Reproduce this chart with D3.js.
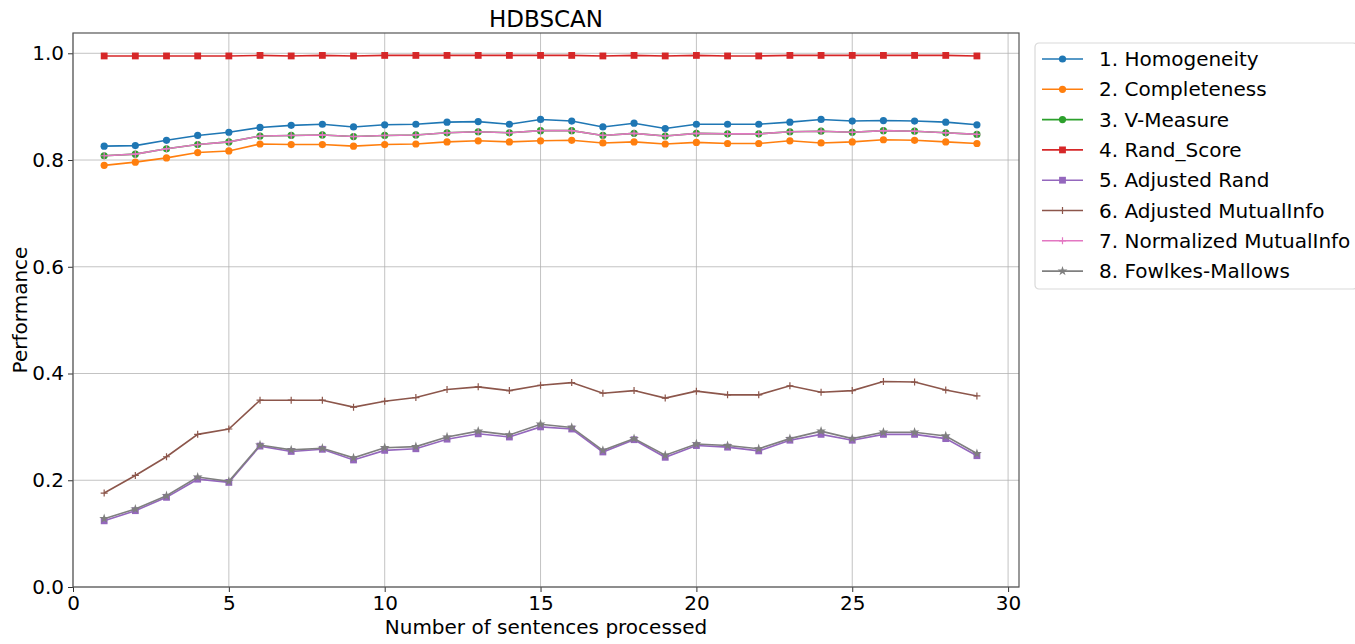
<!DOCTYPE html>
<html>
<head>
<meta charset="utf-8">
<script src="https://cdn.jsdelivr.net/npm/d3@7"></script>
<style>
  body { margin: 0; background: #fff; }
  text { font-family: "DejaVu Sans", sans-serif; fill: #000; }
</style>
</head>
<body>
<div id="chart"></div>
<script>
// sentences processed
const xs = d3.range(1, 30);

const homogeneity = [0.826, 0.827, 0.837, 0.846, 0.852, 0.861, 0.865, 0.867, 0.862, 0.866, 0.867, 0.871, 0.872, 0.867, 0.876,
  0.873, 0.862, 0.869, 0.859, 0.867, 0.867, 0.867, 0.871, 0.876, 0.873, 0.874, 0.873, 0.871, 0.866];
const completeness = [0.790, 0.796, 0.804, 0.814, 0.817, 0.830, 0.829, 0.829, 0.826, 0.829, 0.830, 0.834, 0.836, 0.834, 0.836,
  0.837, 0.832, 0.834, 0.830, 0.833, 0.831, 0.831, 0.836, 0.832, 0.834, 0.838, 0.837, 0.834, 0.831];
const vMeasure = [0.808, 0.811, 0.821, 0.829, 0.834, 0.845, 0.846, 0.847, 0.844, 0.846, 0.847, 0.851, 0.853, 0.851, 0.855,
  0.855, 0.846, 0.850, 0.845, 0.850, 0.849, 0.849, 0.853, 0.854, 0.852, 0.855, 0.854, 0.851, 0.848];
const randScore = [0.995, 0.995, 0.995, 0.995, 0.995, 0.996, 0.995, 0.996, 0.995, 0.996, 0.996, 0.996, 0.996, 0.996, 0.996,
  0.996, 0.995, 0.996, 0.995, 0.996, 0.995, 0.995, 0.996, 0.996, 0.996, 0.996, 0.996, 0.996, 0.995];
const adjustedRand = [0.124, 0.143, 0.168, 0.202, 0.196, 0.264, 0.254, 0.258, 0.238, 0.256, 0.259, 0.277, 0.287, 0.281, 0.300,
  0.296, 0.253, 0.276, 0.243, 0.265, 0.262, 0.255, 0.275, 0.286, 0.275, 0.286, 0.286, 0.278, 0.246];
const adjustedMI = [0.176, 0.209, 0.244, 0.286, 0.296, 0.350, 0.350, 0.350, 0.337, 0.348, 0.355, 0.370, 0.375, 0.368, 0.378,
  0.383, 0.363, 0.368, 0.354, 0.367, 0.360, 0.360, 0.377, 0.365, 0.368, 0.385, 0.384, 0.369, 0.358];
const normalizedMI = [0.808, 0.811, 0.821, 0.829, 0.834, 0.845, 0.846, 0.847, 0.844, 0.846, 0.847, 0.851, 0.853, 0.851, 0.855,
  0.855, 0.846, 0.850, 0.845, 0.850, 0.849, 0.849, 0.853, 0.854, 0.852, 0.855, 0.854, 0.851, 0.848];
const fowlkes = [0.128, 0.146, 0.171, 0.206, 0.198, 0.266, 0.257, 0.260, 0.242, 0.261, 0.263, 0.281, 0.292, 0.285, 0.305,
  0.299, 0.256, 0.278, 0.247, 0.268, 0.265, 0.259, 0.278, 0.292, 0.278, 0.290, 0.290, 0.283, 0.250];

const seriesNames = ["1. Homogeneity", "2. Completeness", "3. V-Measure", "4. Rand_Score",
  "5. Adjusted Rand", "6. Adjusted MutualInfo", "7. Normalized MutualInfo", "8. Fowlkes-Mallows"];
const seriesValues = [homogeneity, completeness, vMeasure, randScore, adjustedRand, adjustedMI, normalizedMI, fowlkes];
const colors = ["#1f77b4", "#ff7f0e", "#2ca02c", "#d62728", "#9467bd", "#8c564b", "#e377c2", "#7f7f7f"];
const markers = ["circle", "circle", "circle", "square", "square", "plus", "plus", "star"];

const xTicks = [0, 5, 10, 15, 20, 25, 30];
const yTicks = [0, 0.2, 0.4, 0.6, 0.8, 1.0];

const W = 1355, H = 644;
const margin = { top: 33, right: 336, bottom: 57, left: 73 };
const width = W - margin.left - margin.right;
const height = H - margin.top - margin.bottom;

const svg = d3.select("#chart").append("svg")
  .attr("width", W)
  .attr("height", H);

const g = svg.append("g")
  .attr("transform", `translate(${margin.left},${margin.top})`);

const x = d3.scaleLinear().domain([0, 30.35]).range([0, width]);
const y = d3.scaleLinear().domain([0, 1.038]).range([height, 0]);

// grid
g.append("g").selectAll("line.gx")
  .data(xTicks).enter().append("line")
  .attr("x1", d => x(d)).attr("x2", d => x(d))
  .attr("y1", 0).attr("y2", height)
  .style("stroke", "#b0b0b0").style("stroke-width", 1).style("opacity", 0.75);
g.append("g").selectAll("line.gy")
  .data(yTicks).enter().append("line")
  .attr("x1", 0).attr("x2", width)
  .attr("y1", d => y(d)).attr("y2", d => y(d))
  .style("stroke", "#b0b0b0").style("stroke-width", 1).style("opacity", 0.75);

// axes
const xAxis = g.append("g")
  .attr("transform", `translate(0,${height})`)
  .call(d3.axisBottom(x).tickValues(xTicks).tickFormat(d3.format("d")).tickSize(5).tickPadding(4));
const yAxis = g.append("g")
  .call(d3.axisLeft(y).tickValues(yTicks).tickFormat(d3.format(".1f")).tickSize(5).tickPadding(4));
[xAxis, yAxis].forEach(a => {
  a.select(".domain").remove();
  a.selectAll("text").style("font-size", "20px").style("font-family", "DejaVu Sans");
  a.selectAll("line").style("stroke", "#333");
});

// spines
g.append("rect")
  .attr("width", width).attr("height", height)
  .style("fill", "none").style("stroke", "#555").style("stroke-width", 1.2);

function drawMarker(sel, type, color, size) {
  if (type === "circle") {
    sel.append("circle").attr("r", size).style("fill", color);
  } else if (type === "square") {
    sel.append("rect").attr("x", -size).attr("y", -size)
      .attr("width", size * 2).attr("height", size * 2).style("fill", color);
  } else if (type === "plus") {
    sel.append("path").attr("d", "M-3.5,0H3.5M0,-3.5V3.5")
      .style("stroke", color).style("stroke-width", 1.2).style("fill", "none");
  } else if (type === "star") {
    sel.append("path").attr("d", d3.symbol().type(d3.symbolStar).size(30)())
      .style("fill", color);
  }
}

const line = d3.line()
  .x((d, i) => x(xs[i]))
  .y(d => y(d));

seriesValues.forEach((vals, k) => {
  const sg = g.append("g");
  sg.append("path")
    .datum(vals)
    .attr("d", line)
    .style("fill", "none")
    .style("stroke", colors[k])
    .style("stroke-width", 1.6);
  sg.selectAll("g.pt")
    .data(vals)
    .enter().append("g")
    .attr("transform", (d, i) => `translate(${x(xs[i])},${y(d)})`)
    .each(function () { drawMarker(d3.select(this), markers[k], colors[k], markers[k] === "circle" ? 3.6 : 3.4); });
});

// title and labels
svg.append("text")
  .attr("x", margin.left + width / 2).attr("y", 27)
  .attr("text-anchor", "middle")
  .style("font-size", "23px")
  .text("HDBSCAN");

svg.append("text")
  .attr("x", margin.left + width / 2).attr("y", 634)
  .attr("text-anchor", "middle")
  .style("font-size", "20px")
  .text("Number of sentences processed");

svg.append("text")
  .attr("transform", `translate(27,${margin.top + height / 2}) rotate(-90)`)
  .attr("text-anchor", "middle")
  .style("font-size", "20px")
  .text("Performance");

// legend
const legend = svg.append("g").attr("transform", "translate(1035,43)");
legend.append("rect")
  .attr("width", 322).attr("height", 246)
  .attr("rx", 4)
  .style("fill", "#fff").style("stroke", "#d9d9d9").style("stroke-width", 1.2);

seriesNames.forEach((name, k) => {
  const row = legend.append("g").attr("transform", `translate(0,${16 + k * 30.3})`);
  row.append("line")
    .attr("x1", 7).attr("x2", 48)
    .style("stroke", colors[k]).style("stroke-width", 1.6);
  const m = row.append("g").attr("transform", "translate(27.5,0)");
  drawMarker(m, markers[k], colors[k], markers[k] === "circle" ? 3.6 : 3.4);
  row.append("text")
    .attr("x", 64).attr("y", 7)
    .style("font-size", "20px")
    .text(name);
});
</script>
</body>
</html>
